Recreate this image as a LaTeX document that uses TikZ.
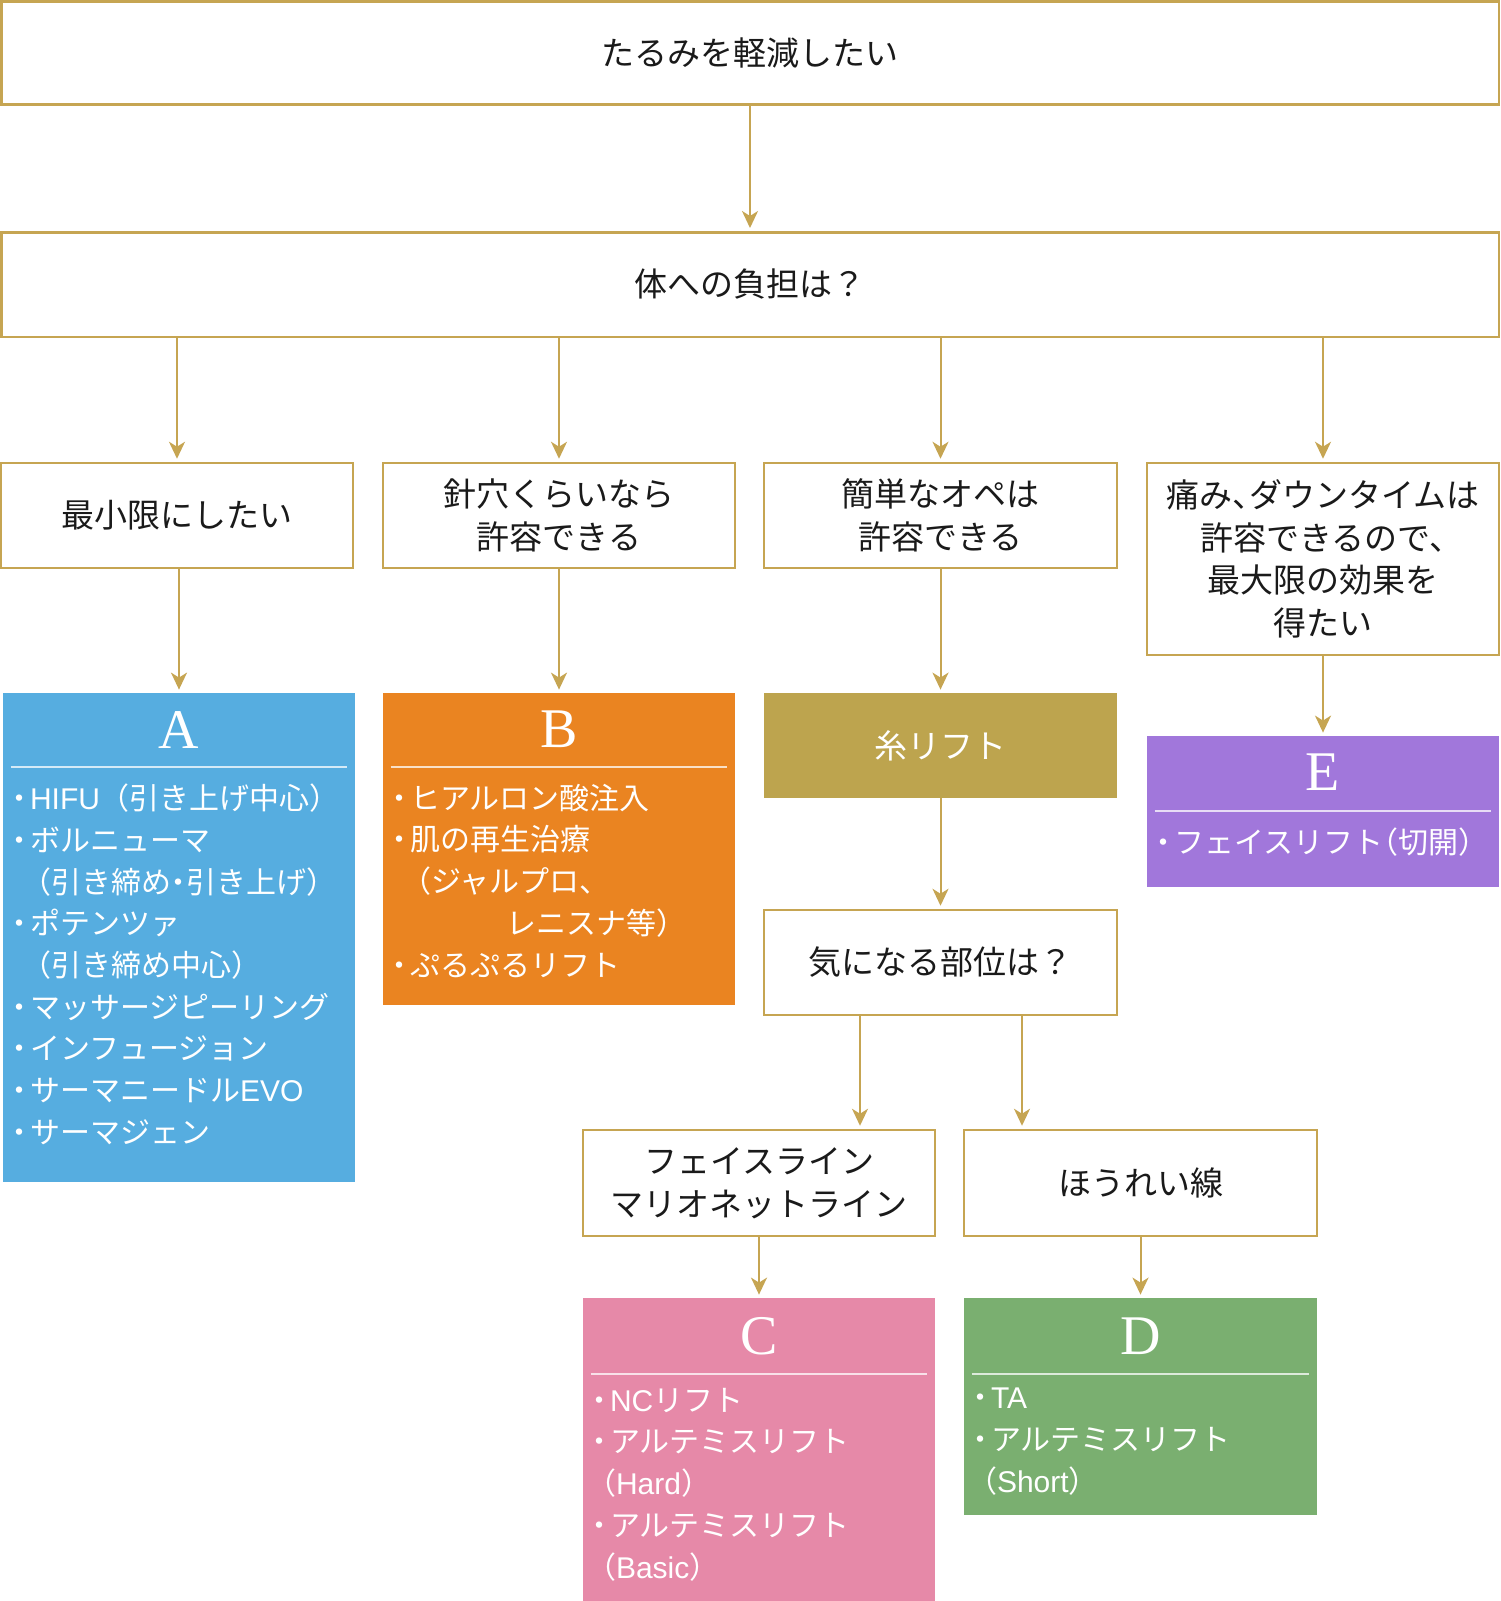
\documentclass[tikz,border=0pt]{standalone}
\usepackage{fontspec}
\setmainfont{Noto Sans CJK JP}
\newfontfamily\jhfont[RawFeature=+halt]{Noto Sans CJK JP}
\newfontfamily\jffont{Noto Sans CJK JP}
\newfontfamily\latfont{Liberation Sans}
\newfontfamily\hdrfont{Liberation Serif}
\usetikzlibrary{arrows.meta}
\definecolor{gold}{HTML}{C6A552}
\definecolor{cA}{HTML}{56ADE0}
\definecolor{cB}{HTML}{EA8421}
\definecolor{cI}{HTML}{BDA44E}
\definecolor{cE}{HTML}{A177DB}
\definecolor{cC}{HTML}{E689A8}
\definecolor{cD}{HTML}{7AAF70}
\definecolor{txt}{HTML}{1A1A1A}
\newcommand{\boxtxt}{\fontsize{16.5pt}{21.5pt}\selectfont}
\newcommand{\lsttxt}{\jhfont\fontsize{15pt}{20.85pt}\selectfont}
\newcommand{\bu}{・\hspace{0.1em}}
\begin{document}
\begin{tikzpicture}[x=0.5pt,y=-0.5pt,
  wbox/.style={draw=gold,line width=1.25pt,fill=white,inner sep=0pt,align=center,font=\boxtxt,text=txt},
  cbox/.style={fill=#1,inner sep=0pt},
  hdr/.style={font=\hdrfont\fontsize{28pt}{28pt}\selectfont,text=white,inner sep=0pt},
  hline/.style={draw=white,draw opacity=0.75,line width=1pt},
  lst/.style={font=\lsttxt,text=white,align=left,inner sep=0pt,anchor=north west},
  arr/.style={draw=gold,line width=1pt,-{Stealth[length=8.5pt,width=8pt,inset=2.5pt]},shorten >=1.5pt}
]
\useasboundingbox (0,0) rectangle (1500,1601);
\fill[white] (0,0) rectangle (1500,1601);

% white boxes
\node[wbox,minimum width=748.75pt,minimum height=51.5pt] (top) at (750,52.8) {たるみを軽減したい};
\node[wbox,minimum width=748.75pt,minimum height=52.25pt] (q) at (750,284.5) {体への負担は？};
\node[wbox,minimum width=176pt,minimum height=52.5pt] (l1) at (177,515.5) {最小限にしたい};
\node[wbox,minimum width=176pt,minimum height=52.5pt] (l2) at (559,515.5) {針穴くらいなら\\許容できる};
\node[wbox,minimum width=176.5pt,minimum height=52.5pt] (l3) at (940.5,515.5) {簡単なオペは\\許容できる};
\node[wbox,minimum width=176pt,minimum height=96pt,font=\jhfont\fontsize{16.5pt}{21.35pt}\selectfont] (l4) at (1323,559) {痛み、ダウンタイムは\\許容できるので、\\最大限の効果を\\得たい};
\node[wbox,minimum width=176.5pt,minimum height=52.5pt] (ki) at (940.5,962.5) {気になる部位は？};
\node[wbox,minimum width=176pt,minimum height=53pt] (fl) at (759,1183) {フェイスライン\\マリオネットライン};
\node[wbox,minimum width=176.5pt,minimum height=53pt] (ho) at (1140.5,1183) {ほうれい線};

% coloured boxes
\node[cbox=cI,minimum width=176.5pt,minimum height=52.5pt,font=\boxtxt,text=white] (ito) at (940.5,745.5) {糸リフト};

\node[cbox=cA,minimum width=176pt,minimum height=244.5pt] (A) at (179,937.5) {};
\node[hdr] (Ah) at ([yshift=-18.5pt]A.north) {A};
\draw[hline] ([xshift=4pt,yshift=-37pt]A.north west) -- ([xshift=-4pt,yshift=-37pt]A.north east);
\node[lst] (Al) at ([xshift=4.5pt,yshift=-45.5pt]A.north west) {\bu{\latfont HIFU}{\jffont（}引き上げ中心{\jffont）}\\\bu ボルニューマ\\\hspace{0.8em}（引き締め・引き上げ）\\\bu ポテンツァ\\\hspace{0.8em}（引き締め中心）\\\bu マッサージピーリング\\\bu インフュージョン\\\bu サーマニードル{\latfont EVO}\\\bu サーマジェン};

\node[cbox=cB,minimum width=176pt,minimum height=156pt] (B) at (559,849) {};
\node[hdr] (Bh) at ([yshift=-18.5pt]B.north) {B};
\draw[hline] ([xshift=4pt,yshift=-37pt]B.north west) -- ([xshift=-4pt,yshift=-37pt]B.north east);
\node[lst] (Bl) at ([xshift=4.5pt,yshift=-45.5pt]B.north west) {\bu ヒアルロン酸注入\\\bu 肌の再生治療\\\hspace{0.8em}（ジャルプロ、\\\hspace{3.8em}レニスナ等）\\\bu ぷるぷるリフト};

\node[cbox=cE,minimum width=176pt,minimum height=75.5pt] (E) at (1323,811.5) {};
\node[hdr] (Eh) at ([yshift=-18.5pt]E.north) {E};
\draw[hline] ([xshift=4pt,yshift=-37.5pt]E.north west) -- ([xshift=-4pt,yshift=-37.5pt]E.north east);
\node[lst] (El) at ([xshift=4.5pt,yshift=-46pt]E.north west) {\bu フェイスリフト（切開）};

\node[cbox=cC,minimum width=176pt,minimum height=154pt] (C) at (759,1452) {};
\node[hdr] (Ch) at ([yshift=-19.5pt]C.north) {C};
\draw[hline] ([xshift=4pt,yshift=-38pt]C.north west) -- ([xshift=-4pt,yshift=-38pt]C.north east);
\node[lst] (Cl) at ([xshift=4.5pt,yshift=-45pt]C.north west) {\bu{\latfont NC}リフト\\\bu アルテミスリフト\\\hspace{0.3em}（{\latfont Hard}）\\\bu アルテミスリフト\\\hspace{0.3em}（{\latfont Basic}）};

\node[cbox=cD,minimum width=176.5pt,minimum height=108.5pt] (D) at (1140.5,1406.5) {};
\node[hdr] (Dh) at ([yshift=-19.5pt]D.north) {D};
\draw[hline] ([xshift=4pt,yshift=-38pt]D.north west) -- ([xshift=-4pt,yshift=-38pt]D.north east);
\node[lst] (Dl) at ([xshift=4.5pt,yshift=-45pt]D.north west) {\bu{\latfont TA}\\\bu アルテミスリフト\\\hspace{0.3em}（{\latfont Short}）};

% connectors
\draw[arr] (top.south) -- (q.north);
\foreach \n in {l1,l2,l3,l4} \draw[arr] (q.south -| \n.north) -- (\n.north);
\draw[arr] (l1.south -| A.north) -- (A.north);
\draw[arr] (l2.south) -- (B.north);
\draw[arr] (l3.south) -- (ito.north);
\draw[arr] (l4.south) -- (E.north);
\draw[arr] (ito.south) -- (ki.north);
\draw[arr] ([xshift=-40.25pt]ki.south) -- ([xshift=-40.25pt]ki.south |- fl.north);
\draw[arr] ([xshift=40.75pt]ki.south) -- ([xshift=40.75pt]ki.south |- ho.north);
\draw[arr] (fl.south) -- (C.north);
\draw[arr] (ho.south -| D.north) -- (D.north);
\end{tikzpicture}
\end{document}
